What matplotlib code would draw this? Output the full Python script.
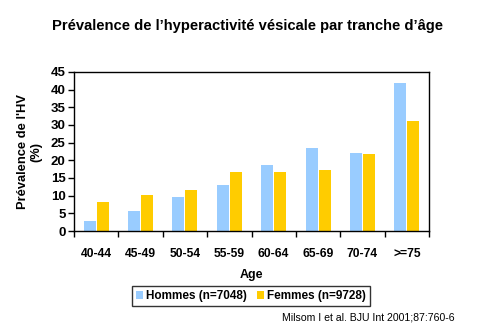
import matplotlib
matplotlib.use("Agg")
import matplotlib.pyplot as plt
import numpy as np

plt.rcParams['font.family'] = ['Liberation Sans', 'DejaVu Sans']

categories = ["40-44", "45-49", "50-54", "55-59", "60-64", "65-69", "70-74", ">=75"]
hommes = [2.9, 5.7, 9.5, 12.9, 18.7, 23.5, 22.1, 41.8]
femmes = [8.3, 10.2, 11.7, 16.7, 16.7, 17.3, 21.8, 31.1]
yticks = [0, 5, 10, 15, 20, 25, 30, 35, 40, 45]

fig = plt.figure(figsize=(4.79, 3.31), dpi=100)
ax = fig.add_axes([74/479, 1-231/331, (429-74)/479, (231-72)/331])

x = np.arange(len(categories))
w = 0.27
off = 0.147
ax.bar(x - off, hommes, w, color='#99CCFF', label='Hommes (n=7048)')
ax.bar(x + off, femmes, w, color='#FFCC00', label='Femmes (n=9728)')

ax.set_xlim(-0.5, len(categories) - 0.5)
ax.set_ylim(0, 45)
ax.set_yticks(yticks)
ax.set_yticklabels([str(v) for v in yticks], fontsize=9.5, fontweight='bold')
ax.set_xticks(x)
ax.set_xticklabels(categories, fontsize=8.7, fontweight='bold')
ax.tick_params(axis='x', which='major', length=0, pad=12)
ax.set_xticks(np.arange(len(categories) + 1) - 0.5, minor=True)
ax.tick_params(axis='x', which='minor', length=4, direction='out', width=1)
ax.tick_params(axis='y', length=4, direction='out', width=1, pad=2)
for s in ax.spines.values():
    s.set_linewidth(1)
    s.set_color('black')

ax.set_xlabel('Age', fontsize=9, fontweight='bold', labelpad=7)
ax.set_ylabel("Prévalence de l'HV\n(%)", fontsize=9.3, fontweight='bold', labelpad=6)

fig.text(248/479, 1-26/331, "Prévalence de l\u2019hyperactivité vésicale par tranche d\u2019âge",
         ha='center', va='center', fontsize=10.6, fontweight='bold')

leg = ax.legend(loc='center', bbox_to_anchor=(251/479, 1-296/331), bbox_transform=fig.transFigure,
                ncol=2, frameon=True, fancybox=False, handlelength=0.6, handleheight=0.6,
                handletextpad=0.3, columnspacing=0.8, borderpad=0.3,
                prop={'size': 8.5, 'weight': 'bold'})
leg.get_frame().set_edgecolor('black')
leg.get_frame().set_linewidth(1)

fig.text(455/479, 1-318/331, "Milsom I et al. BJU Int 2001;87:760-6",
         ha='right', va='center', fontsize=7.6)

fig.savefig('out.png', dpi=100)
